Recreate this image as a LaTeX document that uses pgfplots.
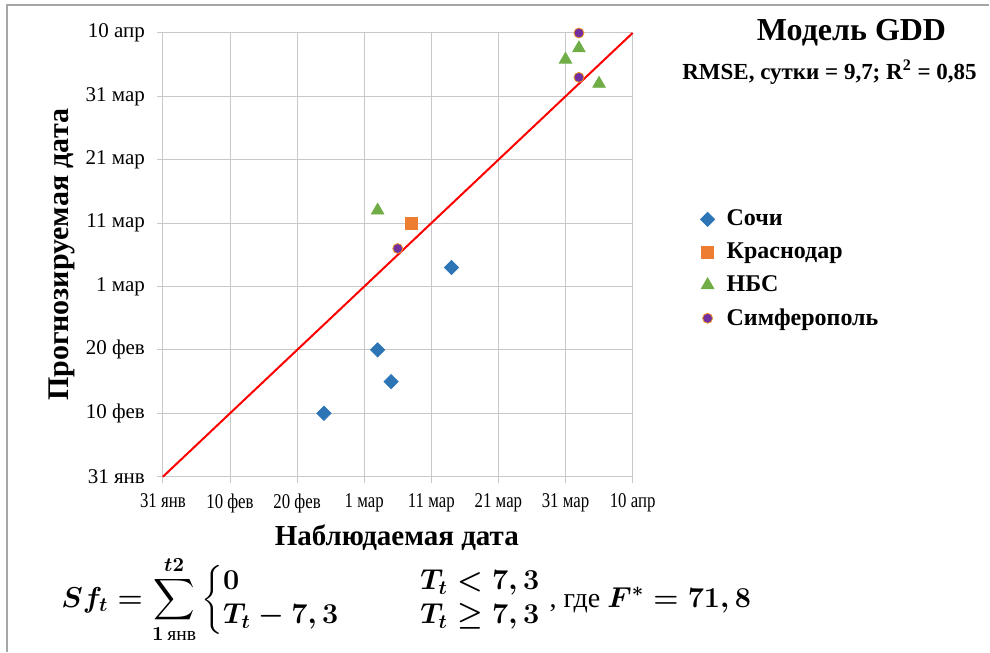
\documentclass[border=0pt]{standalone}
\usepackage{amsmath}
\usepackage{fontspec}
\setmainfont{Liberation Serif}
\usepackage{graphicx}
\usepackage{pgfplots}
\pgfplotsset{compat=1.18}
\definecolor{cblue}{HTML}{2E75B6}
\definecolor{corange}{HTML}{ED7D31}
\definecolor{cgreen}{HTML}{70AD47}
\definecolor{cpurple}{HTML}{7030A0}
\definecolor{cgrid}{HTML}{C8C8C8}
\newcommand\sq[1]{\scalebox{0.8}[1]{#1}}
\newsavebox\formbox
\begin{document}
\sbox\formbox{\fontsize{14}{17}\selectfont\boldmath$\displaystyle Sf_t = \sum_{1\,\text{янв}}^{t2} \left\{\begin{array}{@{}l@{\hspace{41pt}}l@{}} 0 & T_t < 7,3\\ T_t - 7,3 & T_t \geq 7,3\end{array}\right.$\hspace{4pt}, где $F^{*} = 71,8$}%
\begin{tikzpicture}
\begin{scope}[x=0.5pt,y=-0.5pt]
\path (0,0) rectangle (990,652);
\draw[gray!70, line width=0.6pt] (7,652) -- (7,5) -- (990,5);
\node[rotate=90, font=\bfseries\fontsize{15}{18}\selectfont] at (62,255) {Прогнозируемая дата};
\node[font=\bfseries\fontsize{14.5}{17}\selectfont] at (397,538) {Наблюдаемая дата};
\node[font=\bfseries\fontsize{16}{19}\selectfont] at (852,33) {Модель GDD};
\node[font=\bfseries\fontsize{11.5}{14}\selectfont] at (830,72) {RMSE, сутки = 9,7; R\textsuperscript{2} = 0,85};
\node[anchor=west, inner sep=0pt] at (61,600) {\usebox\formbox};
\end{scope}
\begin{axis}[
  at={(81.5pt,-238.5pt)}, anchor=south west,
  scale only axis, width=235pt, height=222pt,
  xmin=0, xmax=70, ymin=0, ymax=70,
  xtick={0,10,...,70}, ytick={0,10,...,70},
  xticklabels={\sq{31 янв},\sq{10 фев},\sq{20 фев},\sq{1 мар},\sq{11 мар},\sq{21 мар},\sq{31 мар},\sq{10 апр}},
  yticklabels={31 янв,10 фев,20 фев,1 мар,11 мар,21 мар,31 мар,10 апр},
  tick label style={font=\fontsize{10.5}{12}\selectfont},
  xticklabel style={yshift=-2pt},
  yticklabel style={xshift=-2.5pt},
  grid=major, major grid style={cgrid, line width=0.5pt},
  axis line style={cgrid, line width=0.5pt},
  tick style={cgrid, line width=0.5pt},
  tick align=outside, tick pos=left, major tick length=3pt,
  clip=false,
  legend style={at={(rel axis cs:1.131,0.62)}, anchor=north west, draw=none, fill=none,
    font=\bfseries\fontsize{12}{14}\selectfont, row sep=3pt, column sep=4pt},
  legend cell align=left,
]
\addplot[red, line width=1pt, forget plot] coordinates {(0,0) (70,70)};
\addplot[only marks, mark=square*, mark size=2.5pt, mark options={rotate=45, fill=cblue, draw=cblue}] coordinates {
(24,10) (32,20) (34,15) (43,33)};
\addlegendentry{Сочи}
\addplot[only marks, mark=square*, mark size=2.9pt, mark options={fill=corange, draw=corange}] coordinates {
(37,40)};
\addlegendentry{Краснодар}
\addplot[only marks, mark=triangle*, mark size=3.6pt, mark options={fill=cgreen, draw=cgreen}] coordinates {
(32,42) (60,65.8) (62,67.6) (65,62)};
\addlegendentry{НБС}
\addplot[only marks, mark=*, mark size=2.5pt, mark options={fill=cpurple, draw=corange!80!yellow, line width=0.4pt}] coordinates {
(62,70) (62,63) (35,36)};
\addlegendentry{Симферополь}
\end{axis}
\end{tikzpicture}
\end{document}
